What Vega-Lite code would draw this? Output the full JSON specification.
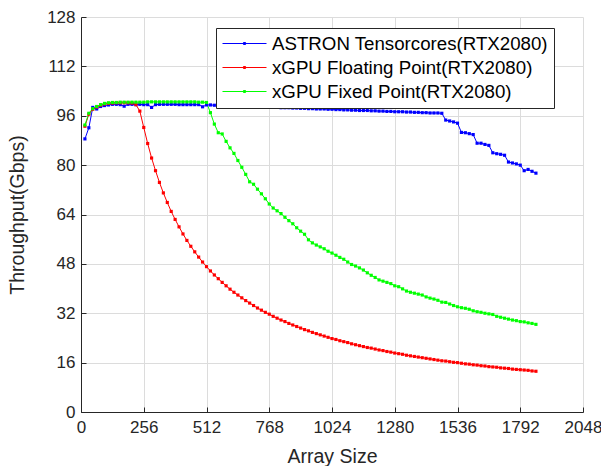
{
  "$schema": "https://vega.github.io/schema/vega-lite/v6.json",
  "width": 502,
  "height": 395,
  "autosize": {"type": "none"},
  "padding": {"left": 81, "top": 17, "right": 18, "bottom": 54},
  "background": "white",
  "data": {"values": [
    {"x":16,"a":88.5,"r":92.6,"g":93.0},
    {"x":32,"a":92.1,"r":96.5,"g":96.8},
    {"x":48,"a":98.7,"r":98.1,"g":98.3},
    {"x":64,"a":98.2,"r":98.8,"g":99.0},
    {"x":80,"a":99.0,"r":99.4,"g":99.6},
    {"x":96,"a":99.3,"r":99.8,"g":100.0},
    {"x":112,"a":99.5,"r":100.0,"g":100.2},
    {"x":128,"a":99.7,"r":100.1,"g":100.3},
    {"x":144,"a":99.7,"r":100.2,"g":100.3},
    {"x":160,"a":99.6,"r":100.2,"g":100.4},
    {"x":176,"a":99.1,"r":100.2,"g":100.4},
    {"x":192,"a":99.7,"r":100.2,"g":100.4},
    {"x":208,"a":99.7,"r":100.1,"g":100.4},
    {"x":224,"a":99.6,"r":99.6,"g":100.4},
    {"x":240,"a":99.7,"r":97.5,"g":100.4},
    {"x":256,"a":99.6,"r":92.2,"g":100.4},
    {"x":272,"a":99.6,"r":87.0,"g":100.5},
    {"x":288,"a":98.7,"r":82.3,"g":100.5},
    {"x":304,"a":99.6,"r":78.2,"g":100.5},
    {"x":320,"a":99.7,"r":74.4,"g":100.5},
    {"x":336,"a":99.7,"r":71.0,"g":100.5},
    {"x":352,"a":99.7,"r":67.9,"g":100.5},
    {"x":368,"a":99.7,"r":65.0,"g":100.5},
    {"x":384,"a":99.7,"r":62.4,"g":100.5},
    {"x":400,"a":99.6,"r":60.0,"g":100.5},
    {"x":416,"a":99.6,"r":57.7,"g":100.5},
    {"x":432,"a":99.6,"r":55.6,"g":100.5},
    {"x":448,"a":99.6,"r":53.7,"g":100.5},
    {"x":464,"a":99.6,"r":51.9,"g":100.5},
    {"x":480,"a":99.6,"r":50.2,"g":100.4},
    {"x":496,"a":98.9,"r":48.6,"g":100.4},
    {"x":512,"a":99.5,"r":47.1,"g":100.3},
    {"x":528,"a":99.5,"r":45.7,"g":97.0},
    {"x":544,"a":99.4,"r":44.4,"g":93.3},
    {"x":560,"a":99.4,"r":43.2,"g":90.5},
    {"x":576,"a":99.3,"r":42.0,"g":90.1},
    {"x":592,"a":99.3,"r":40.9,"g":87.7},
    {"x":608,"a":99.2,"r":39.8,"g":85.6},
    {"x":624,"a":99.2,"r":38.8,"g":83.8},
    {"x":640,"a":99.1,"r":37.9,"g":81.5},
    {"x":656,"a":99.1,"r":37.0,"g":79.3},
    {"x":672,"a":99.1,"r":36.1,"g":77.0},
    {"x":688,"a":99.0,"r":35.3,"g":74.6},
    {"x":704,"a":99.0,"r":34.5,"g":73.8},
    {"x":720,"a":98.9,"r":33.7,"g":72.2},
    {"x":736,"a":98.9,"r":33.0,"g":70.7},
    {"x":752,"a":98.8,"r":32.3,"g":69.1},
    {"x":768,"a":98.8,"r":31.7,"g":67.4},
    {"x":784,"a":98.7,"r":31.0,"g":66.1},
    {"x":800,"a":98.7,"r":30.4,"g":65.2},
    {"x":816,"a":98.6,"r":29.8,"g":64.3},
    {"x":832,"a":98.6,"r":29.3,"g":63.1},
    {"x":848,"a":98.6,"r":28.7,"g":62.0},
    {"x":864,"a":98.5,"r":28.2,"g":61.0},
    {"x":880,"a":98.5,"r":27.7,"g":59.7},
    {"x":896,"a":98.4,"r":27.2,"g":58.6},
    {"x":912,"a":98.4,"r":26.7,"g":57.6},
    {"x":928,"a":98.3,"r":26.3,"g":55.8},
    {"x":944,"a":98.3,"r":25.8,"g":54.8},
    {"x":960,"a":98.2,"r":25.4,"g":54.1},
    {"x":976,"a":98.2,"r":25.0,"g":53.5},
    {"x":992,"a":98.2,"r":24.6,"g":52.9},
    {"x":1008,"a":98.1,"r":24.2,"g":52.1},
    {"x":1024,"a":98.1,"r":23.8,"g":51.5},
    {"x":1040,"a":98.0,"r":23.5,"g":50.8},
    {"x":1056,"a":98.0,"r":23.1,"g":50.1},
    {"x":1072,"a":97.9,"r":22.8,"g":49.5},
    {"x":1088,"a":97.9,"r":22.5,"g":48.6},
    {"x":1104,"a":97.8,"r":22.1,"g":47.8},
    {"x":1120,"a":97.8,"r":21.8,"g":47.3},
    {"x":1136,"a":97.7,"r":21.5,"g":46.7},
    {"x":1152,"a":97.7,"r":21.2,"g":46.0},
    {"x":1168,"a":97.7,"r":20.9,"g":45.1},
    {"x":1184,"a":97.6,"r":20.7,"g":44.3},
    {"x":1200,"a":97.6,"r":20.4,"g":43.6},
    {"x":1216,"a":97.5,"r":20.1,"g":42.8},
    {"x":1232,"a":97.5,"r":19.9,"g":42.4},
    {"x":1248,"a":97.4,"r":19.6,"g":42.0},
    {"x":1264,"a":97.4,"r":19.4,"g":41.6},
    {"x":1280,"a":97.3,"r":19.1,"g":40.9},
    {"x":1296,"a":97.3,"r":18.9,"g":40.6},
    {"x":1312,"a":97.3,"r":18.7,"g":39.9},
    {"x":1328,"a":97.2,"r":18.4,"g":39.2},
    {"x":1344,"a":97.2,"r":18.2,"g":38.8},
    {"x":1360,"a":97.1,"r":18.0,"g":38.5},
    {"x":1376,"a":97.1,"r":17.8,"g":38.2},
    {"x":1392,"a":97.0,"r":17.6,"g":37.9},
    {"x":1408,"a":97.0,"r":17.4,"g":37.3},
    {"x":1424,"a":96.9,"r":17.2,"g":36.9},
    {"x":1440,"a":96.9,"r":17.0,"g":36.6},
    {"x":1456,"a":96.9,"r":16.8,"g":36.2},
    {"x":1472,"a":96.8,"r":16.6,"g":35.6},
    {"x":1488,"a":94.6,"r":16.5,"g":35.5},
    {"x":1504,"a":94.3,"r":16.3,"g":35.0},
    {"x":1520,"a":94.0,"r":16.1,"g":34.5},
    {"x":1536,"a":93.6,"r":16.0,"g":34.1},
    {"x":1552,"a":90.6,"r":15.8,"g":33.8},
    {"x":1568,"a":90.5,"r":15.6,"g":33.6},
    {"x":1584,"a":90.2,"r":15.5,"g":33.3},
    {"x":1600,"a":89.9,"r":15.3,"g":32.8},
    {"x":1616,"a":87.1,"r":15.2,"g":32.5},
    {"x":1632,"a":87.1,"r":15.0,"g":32.3},
    {"x":1648,"a":86.7,"r":14.9,"g":32.0},
    {"x":1664,"a":86.4,"r":14.7,"g":31.8},
    {"x":1680,"a":84.0,"r":14.6,"g":31.6},
    {"x":1696,"a":83.7,"r":14.5,"g":31.0},
    {"x":1712,"a":83.5,"r":14.3,"g":30.7},
    {"x":1728,"a":83.2,"r":14.2,"g":30.4},
    {"x":1744,"a":81.0,"r":14.1,"g":30.1},
    {"x":1760,"a":80.7,"r":13.9,"g":29.8},
    {"x":1776,"a":80.4,"r":13.8,"g":29.6},
    {"x":1792,"a":80.0,"r":13.7,"g":29.3},
    {"x":1808,"a":78.2,"r":13.6,"g":29.2},
    {"x":1824,"a":78.6,"r":13.5,"g":28.9},
    {"x":1840,"a":78.0,"r":13.3,"g":28.7},
    {"x":1856,"a":77.4,"r":13.2,"g":28.4}
  ]},
  "transform": [{"fold": ["a", "r", "g"], "as": ["s", "y"]}],
  "encoding": {
    "x": {
      "field": "x", "type": "quantitative",
      "scale": {"domain": [0, 2048], "nice": false, "zero": false},
      "axis": {"values": [0,256,512,768,1024,1280,1536,1792,2048], "format": "d", "labelOverlap": false, "labelFlush": false, "title": "Array Size", "tickSize": -5, "labelPadding": 12, "titlePadding": 12}
    },
    "y": {
      "field": "y", "type": "quantitative",
      "scale": {"domain": [0, 128], "nice": false},
      "axis": {"values": [0,16,32,48,64,80,96,112,128], "format": "d", "labelOverlap": false, "labelFlush": false, "title": "Throughput(Gbps)", "tickSize": -5, "labelPadding": 11, "titlePadding": 19}
    },
    "color": {
      "field": "s", "type": "nominal",
      "scale": {"domain": ["a", "r", "g"], "range": ["#0000ff", "#ff0000", "#00ff00"]},
      "legend": {
        "orient": "none", "legendX": 135, "legendY": 11,
        "title": null, "direction": "vertical",
        "labelExpr": "datum.value == 'a' ? 'ASTRON Tensorcores(RTX2080)' : datum.value == 'r' ? 'xGPU Floating Point(RTX2080)' : 'xGPU Fixed Point(RTX2080)'",
        "symbolType": "M-1,0H3.889M1.33,-0.11H1.56V0.11H1.33Z",
        "symbolSize": 324,
        "symbolStrokeWidth": 1,
        "labelFontSize": 18.7,
        "labelFont": "Liberation Sans",
        "labelColor": "#000000",
        "labelOffset": 31,
        "labelLimit": 400,
        "rowPadding": 4,
        "padding": 6,
        "strokeColor": "#262626",
        "fillColor": "white",
        "encode": {"symbols": {"update": {
          "stroke": {"scale": "color", "field": "value"},
          "fill": {"scale": "color", "field": "value"},
          "opacity": {"value": 1}
        }}}
      }
    }
  },
  "layer": [
    {"mark": {"type": "line", "strokeWidth": 1}},
    {"mark": {"type": "point", "shape": "square", "filled": true, "size": 10, "opacity": 1}}
  ],
  "config": {
    "view": {"stroke": null},
    "axis": {
      "labelFont": "Liberation Sans", "titleFont": "Liberation Sans",
      "labelFontSize": 17, "titleFontSize": 19.5, "titleFontWeight": "normal",
      "labelColor": "#262626", "titleColor": "#262626",
      "domainColor": "#262626", "tickColor": "#262626",
      "gridColor": "#dcdcdc", "gridWidth": 1, "domainWidth": 1
    }
  }
}
